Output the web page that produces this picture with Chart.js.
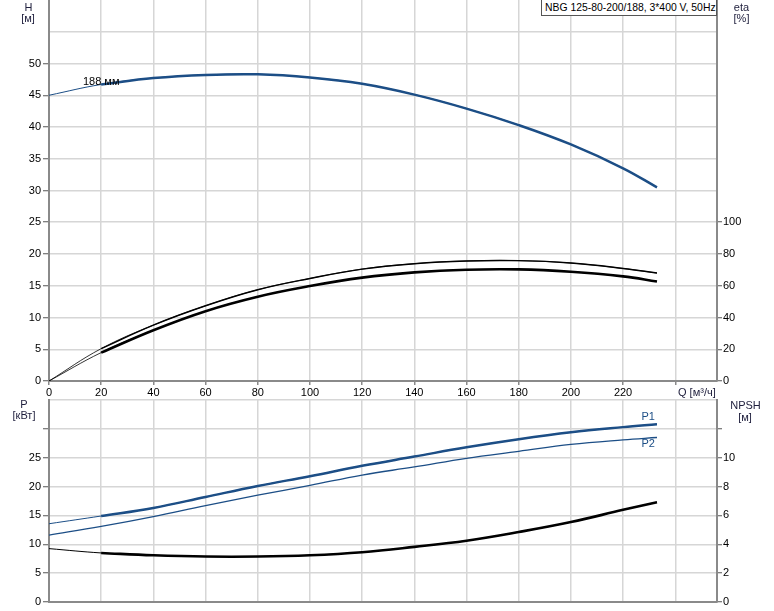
<!DOCTYPE html>
<html>
<head>
<meta charset="utf-8">
<script src="https://cdn.jsdelivr.net/npm/chart.js@4.4.0/dist/chart.umd.min.js"></script>
<style>
  html, body { margin: 0; padding: 0; background: #fff; }
  #wrap { position: relative; width: 774px; height: 611px; overflow: hidden;
          font-family: "Liberation Sans", Arial, sans-serif; font-size: 11px; color: #000; }
  canvas { position: absolute; left: 0; }
  #topChart { top: 0; }
  #bottomChart { top: 396px; }
  .lbl { position: absolute; white-space: nowrap; line-height: 12px; text-align: center; color: #1e1e3c; }
  .box { position: absolute; left: 541px; top: -1px; width: 176px; height: 17px; box-sizing: border-box;
         border: 1px solid #555; background: #fff; padding-left: 3px; line-height: 15px; white-space: nowrap;
         font-size: 10.4px; }
</style>
</head>
<body>
<div id="wrap">
  <canvas id="topChart" width="774" height="396"></canvas>
  <canvas id="bottomChart" width="774" height="215"></canvas>

  <div class="box">NBG 125-80-200/188, 3*400 V, 50Hz</div>
  <div class="lbl" style="left:18px; top:1px; width:21px;">H</div>
  <div class="lbl" style="left:16px; top:12px; width:24px;">[м]</div>
  <div class="lbl" style="left:728px; top:1px; width:27px;">eta</div>
  <div class="lbl" style="left:728px; top:12px; width:27px;">[%]</div>
  <div class="lbl" style="left:678px; top:386px; text-align:left;">Q [м³/ч]</div>
  <div class="lbl" style="left:12px; top:398px; width:24px;">P</div>
  <div class="lbl" style="left:6px; top:409px; width:36px;">[кВт]</div>
  <div class="lbl" style="left:725px; top:399px; width:41px;">NPSH</div>
  <div class="lbl" style="left:733px; top:411px; width:24px;">[м]</div>
</div>

<script>
// --- data ---
const qPoints = [0, 20, 40, 60, 80, 100, 120, 140, 160, 180, 200, 220, 233];
const headH = [45.0, 46.7, 47.7, 48.2, 48.3, 47.8, 46.8, 45.1, 42.9, 40.3, 37.25, 33.5, 30.5];
const etaUpper = [0, 20.4, 35.2, 47.4, 57.5, 64.6, 70.5, 73.9, 75.6, 75.8, 74.3, 70.9, 68.0];
const etaLower = [0, 17.9, 32.0, 44.0, 53.1, 59.8, 65.1, 68.4, 70.1, 70.3, 68.8, 65.9, 62.7];
const powerP1 = [13.56, 14.9, 16.3, 18.2, 20.1, 21.8, 23.6, 25.2, 26.8, 28.2, 29.4, 30.3, 30.8];
const powerP2 = [11.6, 13.1, 14.8, 16.7, 18.5, 20.2, 22.0, 23.4, 24.9, 26.1, 27.3, 28.1, 28.5];
const npshVals = [3.7, 3.4, 3.24, 3.15, 3.15, 3.24, 3.45, 3.82, 4.25, 4.85, 5.54, 6.39, 6.92];

// --- tick labels ---
const qTicks = [0, 20, 40, 60, 80, 100, 120, 140, 160, 180, 200, 220, 240];
const hTicks = [0, 5, 10, 15, 20, 25, 30, 35, 40, 45, 50, 55, 60];
const etaTicks = [0, 20, 40, 60, 80, 100];
const pTicks = [0, 5, 10, 15, 20, 25, 30, 35];
const npshTicks = [0, 2, 4, 6, 8, 10, 12];

const opStart = 20; // curves get thicker from here on

const blue = '#1c4e86';
const gridCol = '#d6d6d6';
const axisCol = '#8a8a8a';
const none = 'rgba(0,0,0,0)';
const font = { family: '"Liberation Sans", Arial, sans-serif', size: 11 };

const pts = (ys, from = 0) => qPoints.map((q, i) => ({ x: q, y: ys[i] })).filter(p => p.x >= from);

const line = (data, color, width, axis) => ({
  data, borderColor: color, borderWidth: width, yAxisID: axis,
  pointRadius: 0, fill: false, tension: 0.4
});

const setTicks = list => s => { s.ticks = list.map(v => ({ value: v })); };

// curve names written next to the lines
const curveLabels = {
  id: 'curveLabels',
  afterDatasetsDraw(chart, args, opts) {
    const ctx = chart.ctx;
    const xs = chart.scales.x;
    ctx.save();
    ctx.font = '11px "Liberation Sans", Arial, sans-serif';
    ctx.textBaseline = 'middle';
    (opts.items || []).forEach(it => {
      ctx.fillStyle = it.color;
      ctx.textAlign = it.align;
      ctx.fillText(it.text, xs.getPixelForValue(it.x) + it.dx, chart.scales[it.axis].getPixelForValue(it.y) + it.dy);
    });
    ctx.restore();
  }
};

const xScale = (showLabels, height) => ({
  type: 'linear', min: 0, max: 256,
  afterBuildTicks: setTicks(qTicks),
  ticks: { display: showLabels, font, color: '#000', padding: 1, maxRotation: 0, autoSkip: false,
           callback: v => v <= 220 ? v : '' },
  grid: { color: gridCol, lineWidth: 1.5, tickLength: 4, tickColor: axisCol, drawTicks: showLabels },
  border: { color: axisCol, width: 2 },
  afterFit: s => { s.height = height; s.paddingLeft = 0; s.paddingRight = 0; }
});

const yScale = (pos, max, list, labelMax, tickMax, ownGrid, width) => ({
  type: 'linear', position: pos, min: 0, max: max,
  afterBuildTicks: setTicks(list),
  ticks: { font, color: '#000', padding: pos === 'left' ? 2 : 1, autoSkip: false,
           callback: v => v <= labelMax ? v : '' },
  grid: {
    drawOnChartArea: ownGrid,
    lineWidth: 1.5,
    color: c => (c.tick && c.tick.value === 60) ? none : gridCol,
    tickLength: pos === 'left' ? 6 : 5,
    tickWidth: 1,
    tickColor: c => (c.tick && c.tick.value <= tickMax) ? '#555' : none
  },
  border: { color: axisCol, width: 2 },
  afterFit: s => { s.width = width; s.paddingTop = 0; s.paddingBottom = 0; }
});

const common = {
  responsive: false,
  animation: false,
  layout: { autoPadding: false, padding: 0 },
  plugins: { legend: { display: false }, tooltip: { enabled: false } }
};

// --- top chart: head and efficiency ---
new Chart(document.getElementById('topChart'), {
  type: 'line',
  data: {
    datasets: [
      line(pts(headH, opStart), blue, 2.5, 'h'),
      line(pts(headH), blue, 1, 'h'),
      line(pts(etaUpper, opStart), '#000', 1.4, 'eta'),
      line(pts(etaUpper), '#000', 0.8, 'eta'),
      line(pts(etaLower, opStart), '#000', 2.6, 'eta'),
      line(pts(etaLower), '#000', 0.8, 'eta')
    ]
  },
  options: {
    ...common,
    plugins: {
      ...common.plugins,
      curveLabels: { items: [
        { text: '188 мм', x: 20, y: headH[1], axis: 'h', dx: 0, dy: -2, align: 'center', color: '#000' }
      ] }
    },
    scales: {
      x: xScale(true, 15),
      h: yScale('left', 60, hTicks, 50, 50, true, 49),
      eta: yScale('right', 240, etaTicks, 100, 100, false, 57)
    }
  },
  plugins: [curveLabels]
});

// --- bottom chart: power and NPSH ---
new Chart(document.getElementById('bottomChart'), {
  type: 'line',
  data: {
    datasets: [
      line(pts(powerP1, opStart), blue, 2.5, 'p'),
      line(pts(powerP1), blue, 1, 'p'),
      line(pts(powerP2), blue, 1.3, 'p'),
      line(pts(npshVals, opStart), '#000', 2.6, 'npsh'),
      line(pts(npshVals), '#000', 1, 'npsh')
    ]
  },
  options: {
    ...common,
    layout: { autoPadding: false, padding: { top: 4 } },
    plugins: {
      ...common.plugins,
      curveLabels: { items: [
        { text: 'P1', x: 233, y: powerP1[12], axis: 'p', dx: -2, dy: -7, align: 'right', color: blue },
        { text: 'P2', x: 233, y: powerP2[12], axis: 'p', dx: -2, dy: 6.5, align: 'right', color: blue }
      ] }
    },
    scales: {
      x: xScale(false, 9),
      p: yScale('left', 35, pTicks, 25, 30, true, 49),
      npsh: yScale('right', 14, npshTicks, 10, 12, false, 57)
    }
  },
  plugins: [curveLabels]
});
</script>
</body>
</html>
